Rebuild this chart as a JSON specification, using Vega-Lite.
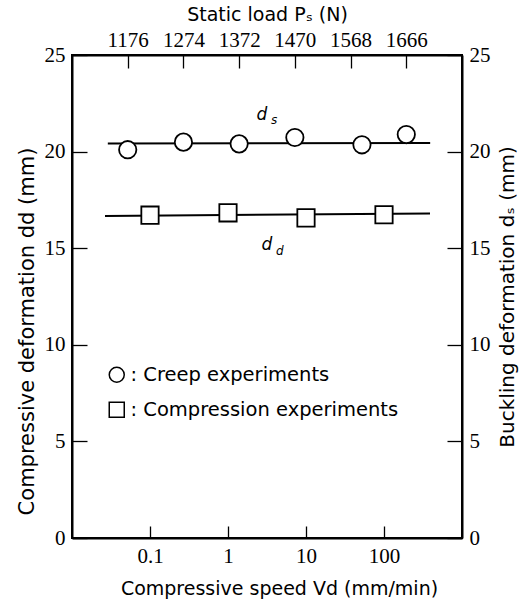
{
  "$schema": "https://vega.github.io/schema/vega-lite/v6.json",
  "width": 390,
  "height": 483,
  "autosize": "none",
  "padding": {"left": 72, "top": 55, "right": 57, "bottom": 65},
  "background": "white",
  "datasets": {
    "ddLine": [{"V": 0.0265, "d": 16.67}, {"V": 389, "d": 16.8}],
    "ddPts": [{"V": 0.1, "d": 16.71}, {"V": 1, "d": 16.83}, {"V": 10, "d": 16.57}, {"V": 100, "d": 16.73}],
    "ddLab": [{"V": 3.16, "d": 14.9, "main": "d", "sub": "d"}],
    "logTicks": [
      {"V": 0.01, "major": true}, {"V": 0.02, "major": false}, {"V": 0.03, "major": false}, {"V": 0.04, "major": false}, {"V": 0.05, "major": false}, {"V": 0.06, "major": false}, {"V": 0.07, "major": false}, {"V": 0.08, "major": false}, {"V": 0.09, "major": false},
      {"V": 0.1, "major": true}, {"V": 0.2, "major": false}, {"V": 0.3, "major": false}, {"V": 0.4, "major": false}, {"V": 0.5, "major": false}, {"V": 0.6, "major": false}, {"V": 0.7, "major": false}, {"V": 0.8, "major": false}, {"V": 0.9, "major": false},
      {"V": 1, "major": true}, {"V": 2, "major": false}, {"V": 3, "major": false}, {"V": 4, "major": false}, {"V": 5, "major": false}, {"V": 6, "major": false}, {"V": 7, "major": false}, {"V": 8, "major": false}, {"V": 9, "major": false},
      {"V": 10, "major": true}, {"V": 20, "major": false}, {"V": 30, "major": false}, {"V": 40, "major": false}, {"V": 50, "major": false}, {"V": 60, "major": false}, {"V": 70, "major": false}, {"V": 80, "major": false}, {"V": 90, "major": false},
      {"V": 100, "major": true}, {"V": 200, "major": false}, {"V": 300, "major": false}, {"V": 400, "major": false}, {"V": 500, "major": false}, {"V": 600, "major": false}, {"V": 700, "major": false}, {"V": 800, "major": false}, {"V": 900, "major": false},
      {"V": 1000, "major": true}
    ],
    "dsLine": [{"P": 1141, "s": 20.42}, {"P": 1708, "s": 20.45}],
    "dsPts": [{"P": 1176, "s": 20.1}, {"P": 1274, "s": 20.49}, {"P": 1372, "s": 20.4}, {"P": 1470, "s": 20.73}, {"P": 1588, "s": 20.35}, {"P": 1666, "s": 20.88}],
    "dsLab": [{"P": 1412, "s": 21.66, "main": "d", "sub": "s"}]
  },
  "config": {
    "view": {"stroke": "black", "strokeWidth": 2},
    "axis": {
      "domainColor": "black", "domainWidth": 2, "tickColor": "black", "tickWidth": 1.3,
      "grid": false, "labelColor": "black", "titleColor": "black",
      "labelFont": "Liberation Sans Narrow", "labelFontSize": 21,
      "titleFont": "DejaVu Sans", "titleFontSize": 19, "titleFontWeight": "normal",
      "labelOverlap": false
    }
  },
  "layer": [
    {
      "encoding": {
        "x": {"field": "V", "type": "quantitative",
          "scale": {"type": "log", "domain": [0.01, 1000]},
          "axis": {"orient": "bottom", "title": "Compressive speed  Vd (mm/min)", "ticks": true, "tickSize": -12,
            "values": [0.1, 1, 10, 100],
            "labelExpr": "format(datum.value, '~g')",
            "labelPadding": 19, "titlePadding": 13, "titleX": 207}},
        "y": {"field": "d", "type": "quantitative",
          "scale": {"domain": [0, 25]},
          "axis": {"orient": "left", "title": "Compressive  deformation    dd   (mm)", "titleFontSize": 21, "titleY": 276,
            "values": [0, 5, 10, 15, 20, 25], "tickSize": -15, "labelPadding": 22, "titlePadding": 7}}
      },
      "layer": [
        {"data": {"name": "logTicks"}, "transform": [{"filter": "datum.major"}],
         "mark": {"type": "rule", "color": "black", "strokeWidth": 1.5, "opacity": 1},
         "encoding": {"y": {"datum": 0}, "y2": {"datum": 0.62}}},
        {"data": {"name": "logTicks"}, "transform": [{"filter": "!datum.major"}],
         "mark": {"type": "rule", "color": "black", "strokeWidth": 1.3, "opacity": 1},
         "encoding": {"y": {"datum": 0}, "y2": {"datum": 0.33}}},
        {"data": {"name": "ddLine"}, "mark": {"type": "line", "color": "black", "strokeWidth": 2}},
        {"data": {"name": "ddPts"},
         "mark": {"type": "point", "filled": true, "fill": "white", "stroke": "black", "strokeWidth": 1.8, "size": 300, "opacity": 1},
         "encoding": {
           "shape": {"datum": "Compression experiments", "type": "nominal",
           "scale": {"domain": ["Creep experiments", "Compression experiments"], "range": ["circle", "square"]},
           "legend": {"orient": "none", "legendX": 35, "legendY": 310, "title": null,
             "labelExpr": "': ' + datum.label", "labelFont": "DejaVu Sans", "labelFontSize": 19.5, "labelColor": "black", "labelLimit": 0,
             "symbolSize": 225, "rowPadding": 13, "labelOffset": 4, "padding": 0,
             "encode": {"symbols": {"update": {"stroke": {"value": "black"}, "fill": {"value": "white"}, "strokeWidth": {"value": 1.8}, "opacity": {"value": 1}}}}}}}},
        {"data": {"name": "ddLab"}, "mark": {"type": "text", "font": "DejaVu Sans", "fontStyle": "italic", "fontSize": 17, "align": "center", "baseline": "alphabetic", "color": "black"},
         "encoding": {"text": {"field": "main"}}},
        {"data": {"name": "ddLab"}, "mark": {"type": "text", "font": "DejaVu Sans", "fontStyle": "italic", "fontSize": 12, "align": "left", "baseline": "alphabetic", "dx": 9, "dy": 5, "color": "black"},
         "encoding": {"text": {"field": "sub"}}}
      ]
    },
    {
      "encoding": {
        "x": {"field": "P", "type": "quantitative",
          "scale": {"domain": [1078, 1764], "nice": false, "zero": false},
          "axis": {"orient": "top", "title": "Static load  Pₛ (N)", "format": "d",
            "values": [1176, 1274, 1372, 1470, 1568, 1666], "tickSize": -13, "labelPadding": 18, "titlePadding": 5}},
        "y": {"field": "s", "type": "quantitative",
          "scale": {"domain": [0, 25]},
          "axis": {"orient": "right", "title": "Buckling  deformation   dₛ  (mm)", "titleFontSize": 20,
            "values": [0, 5, 10, 15, 20, 25], "tickSize": -15, "labelPadding": 22, "titlePadding": 7,
            "titleAngle": 270, "titleBaseline": "top"}}
      },
      "layer": [
        {"data": {"name": "dsLine"}, "mark": {"type": "line", "color": "black", "strokeWidth": 2}},
        {"data": {"name": "dsPts"},
         "mark": {"type": "point", "filled": true, "fill": "white", "stroke": "black", "strokeWidth": 1.8, "size": 300, "opacity": 1},
         "encoding": {"shape": {"datum": "Creep experiments", "type": "nominal"}}},
        {"data": {"name": "dsLab"}, "mark": {"type": "text", "font": "DejaVu Sans", "fontStyle": "italic", "fontSize": 17, "align": "center", "baseline": "alphabetic", "color": "black"},
         "encoding": {"text": {"field": "main"}}},
        {"data": {"name": "dsLab"}, "mark": {"type": "text", "font": "DejaVu Sans", "fontStyle": "italic", "fontSize": 12, "align": "left", "baseline": "alphabetic", "dx": 9, "dy": 4, "color": "black"},
         "encoding": {"text": {"field": "sub"}}}
      ]
    }
  ],
  "resolve": {"scale": {"x": "independent", "y": "independent"}, "axis": {"x": "independent", "y": "independent"}}
}
